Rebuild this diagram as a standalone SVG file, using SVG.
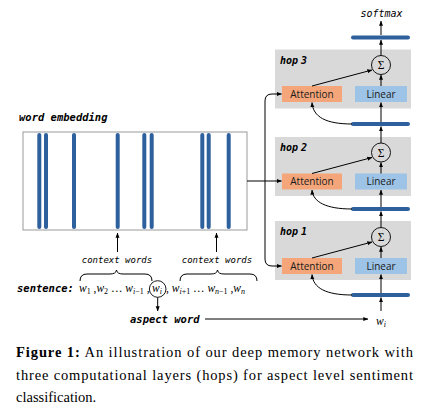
<svg xmlns="http://www.w3.org/2000/svg" width="441" height="419" viewBox="0 0 441 419">
<defs>
<marker id="ah" viewBox="0 0 8 8" refX="7.5" refY="4" markerWidth="5" markerHeight="5" orient="auto" markerUnits="userSpaceOnUse"><path d="M0,0.8 L8,4 L0,7.2 z" fill="#000"/></marker>
</defs>
<style>
.mono{font-family:"DejaVu Sans Mono","Liberation Mono",monospace;font-style:oblique;}
.b{font-weight:bold;}
.sans{font-family:"Open Sans","Liberation Sans",sans-serif;font-size:10px;fill:#1a1a1a;}
.math{font-family:"Liberation Serif",serif;font-size:11.5px;fill:#000;}
.it{font-style:italic;}
.sub{font-size:8px;}
.gray{fill:#d9d9d9;}
.att{fill:#f4a67a;}
.lin{fill:#9dc3e6;}
.bar{stroke:#2f609e;stroke-width:4;stroke-linecap:round;}
.ln{fill:none;stroke:#000;stroke-width:1;}
.cap{font-family:"Liberation Serif","Times New Roman",serif;font-size:14.5px;fill:#000;}
</style>

<g id="embedding">
<text x="19" y="121" class="mono b" font-size="10.5">word embedding</text>
<rect x="23" y="132" width="224" height="98" fill="#fff" stroke="#9a9a9a" stroke-width="1"/>
<g class="bar">
<line x1="39.3" y1="135" x2="39.3" y2="227"/>
<line x1="46" y1="135" x2="46" y2="227"/>
<line x1="74" y1="135" x2="74" y2="227"/>
<line x1="117.7" y1="135" x2="117.7" y2="227"/>
<line x1="144.3" y1="135" x2="144.3" y2="227"/>
<line x1="151.7" y1="135" x2="151.7" y2="227"/>
<line x1="202.3" y1="135" x2="202.3" y2="227"/>
<line x1="208.7" y1="135" x2="208.7" y2="227"/>
<line x1="228.7" y1="135" x2="228.7" y2="227"/>
</g>
</g>

<g id="sentence">
<text x="17" y="292" class="mono b" font-size="10.5">sentence:</text>
<text x="79" y="292" class="math"><tspan class="it">w</tspan><tspan class="sub" dy="2">1</tspan><tspan dy="-2"> ,</tspan><tspan class="it">w</tspan><tspan class="sub" dy="2">2</tspan><tspan dy="-2"> … </tspan><tspan class="it">w</tspan><tspan class="sub" dy="2"><tspan class="it">i</tspan>−1</tspan><tspan dy="-2"> ,</tspan></text>
<circle cx="157.7" cy="289" r="8.3" fill="none" stroke="#000" stroke-width="0.9"/>
<text x="152" y="292" class="math"><tspan class="it">w</tspan><tspan class="sub it" dy="2">i</tspan></text>
<text x="166" y="292" class="math"><tspan>, </tspan><tspan class="it">w</tspan><tspan class="sub" dy="2"><tspan class="it">i</tspan>+1</tspan><tspan dy="-2"> … </tspan><tspan class="it">w</tspan><tspan class="sub" dy="2"><tspan class="it">n</tspan>−1</tspan><tspan dy="-2"> ,</tspan><tspan class="it">w</tspan><tspan class="sub it" dy="2">n</tspan></text>
</g>

<g id="context-left">
<text x="117" y="263" class="mono" font-size="9" text-anchor="middle">context words</text>
<path class="ln" d="M80,281 Q80,274 87,274 L110,274 Q116,274 116.5,270 Q117,274 123,274 L145,274 Q152,274 152,281"/>
</g>
<g id="context-right">
<text x="217" y="263" class="mono" font-size="9" text-anchor="middle">context words</text>
<path class="ln" d="M180,281 Q180,274 187,274 L211,274 Q217,274 217.5,270 Q218,274 224,274 L250,274 Q257,274 257,281"/>
</g>

<g id="aspect">
<text x="130" y="323" class="mono b" font-size="10.5">aspect word</text>
</g>
<g id="wi">
<text x="376" y="325" class="math"><tspan class="it">w</tspan><tspan class="sub it" dy="2">i</tspan></text>
</g>

<g id="softmax">
<text x="381.5" y="17" class="mono" font-size="10" text-anchor="middle">softmax</text>
<line class="bar" x1="353" y1="37.5" x2="408" y2="37.5"/>
</g>

<g id="hop3">
<rect class="gray" x="275" y="49.5" width="136" height="59"/>
<text x="280" y="63.5" class="mono b" font-size="10">hop<tspan dx="3">3</tspan></text>
<circle cx="381" cy="65" r="9.5" fill="none" stroke="#000" stroke-width="0.9"/>
<text x="381" y="69" class="math" font-size="11" text-anchor="middle">Σ</text>
<rect class="att" x="282" y="86" width="60" height="16"/>
<text x="312" y="97.5" class="sans" text-anchor="middle">Attention</text>
<rect class="lin" x="355" y="86" width="52" height="16"/>
<text x="381" y="97.5" class="sans" text-anchor="middle">Linear</text>
<line class="bar" x1="353" y1="124" x2="408" y2="124"/>
</g>

<g id="hop2">
<rect class="gray" x="275" y="137" width="136" height="59"/>
<text x="280" y="151" class="mono b" font-size="10">hop<tspan dx="3">2</tspan></text>
<circle cx="381" cy="152.5" r="9.5" fill="none" stroke="#000" stroke-width="0.9"/>
<text x="381" y="156.5" class="math" font-size="11" text-anchor="middle">Σ</text>
<rect class="att" x="282" y="173.5" width="60" height="16"/>
<text x="312" y="185" class="sans" text-anchor="middle">Attention</text>
<rect class="lin" x="355" y="173.5" width="52" height="16"/>
<text x="381" y="185" class="sans" text-anchor="middle">Linear</text>
<line class="bar" x1="353" y1="209" x2="408" y2="209"/>
</g>

<g id="hop1">
<rect class="gray" x="275" y="221" width="136" height="59"/>
<text x="280" y="235" class="mono b" font-size="10">hop<tspan dx="3">1</tspan></text>
<circle cx="381" cy="237" r="9.5" fill="none" stroke="#000" stroke-width="0.9"/>
<text x="381" y="241" class="math" font-size="11" text-anchor="middle">Σ</text>
<rect class="att" x="282" y="258" width="60" height="16"/>
<text x="312" y="269.5" class="sans" text-anchor="middle">Attention</text>
<rect class="lin" x="355" y="258" width="52" height="16"/>
<text x="381" y="269.5" class="sans" text-anchor="middle">Linear</text>
<line class="bar" x1="353" y1="295" x2="408" y2="295"/>
</g>

<g id="connectors" class="ln">
<line x1="381" y1="35" x2="381" y2="21" marker-end="url(#ah)"/>
<line x1="381" y1="55.5" x2="381" y2="40" marker-end="url(#ah)"/>
<line x1="312" y1="86" x2="372" y2="70" marker-end="url(#ah)"/>
<line x1="381" y1="86" x2="381" y2="75" marker-end="url(#ah)"/>
<line x1="381" y1="122" x2="381" y2="102.5" marker-end="url(#ah)"/>
<path d="M352,124 C326,124 313,117 312,102.5" marker-end="url(#ah)"/>
<line x1="381" y1="143" x2="381" y2="126.5" marker-end="url(#ah)"/>
<line x1="312" y1="173.5" x2="372" y2="157.5" marker-end="url(#ah)"/>
<line x1="381" y1="173.5" x2="381" y2="162.5" marker-end="url(#ah)"/>
<line x1="381" y1="207" x2="381" y2="190" marker-end="url(#ah)"/>
<path d="M352,209 C326,209 313,202 312,190" marker-end="url(#ah)"/>
<line x1="381" y1="227.5" x2="381" y2="211.5" marker-end="url(#ah)"/>
<line x1="312" y1="258" x2="372" y2="242" marker-end="url(#ah)"/>
<line x1="381" y1="258" x2="381" y2="247" marker-end="url(#ah)"/>
<line x1="381" y1="293" x2="381" y2="274.5" marker-end="url(#ah)"/>
<path d="M352,295 C326,295 313,288 312,274.5" marker-end="url(#ah)"/>
<line x1="381" y1="311" x2="381" y2="297.5" marker-end="url(#ah)"/>
<line x1="247" y1="181" x2="281.5" y2="181" marker-end="url(#ah)"/>
<path d="M265,181 V101 Q265,94 272,94 H281.5" marker-end="url(#ah)"/>
<path d="M265,181 V259 Q265,266 272,266 H281.5" marker-end="url(#ah)"/>
<line x1="117.5" y1="252" x2="117.5" y2="233" marker-end="url(#ah)"/>
<line x1="216.5" y1="252" x2="216.5" y2="233" marker-end="url(#ah)"/>
<line x1="157.7" y1="297.5" x2="157.7" y2="311" marker-end="url(#ah)"/>
<line x1="205" y1="319" x2="368" y2="319" marker-end="url(#ah)"/>
</g>

<g id="caption">
<text x="16" y="357" class="cap" textLength="397" lengthAdjust="spacing"><tspan font-weight="bold">Figure 1:</tspan>  An illustration of our deep memory network with</text>
<text x="16" y="379.5" class="cap" textLength="397" lengthAdjust="spacing">three computational layers (hops) for aspect level sentiment</text>
<text x="16" y="402" class="cap">classification.</text>
</g>
</svg>
